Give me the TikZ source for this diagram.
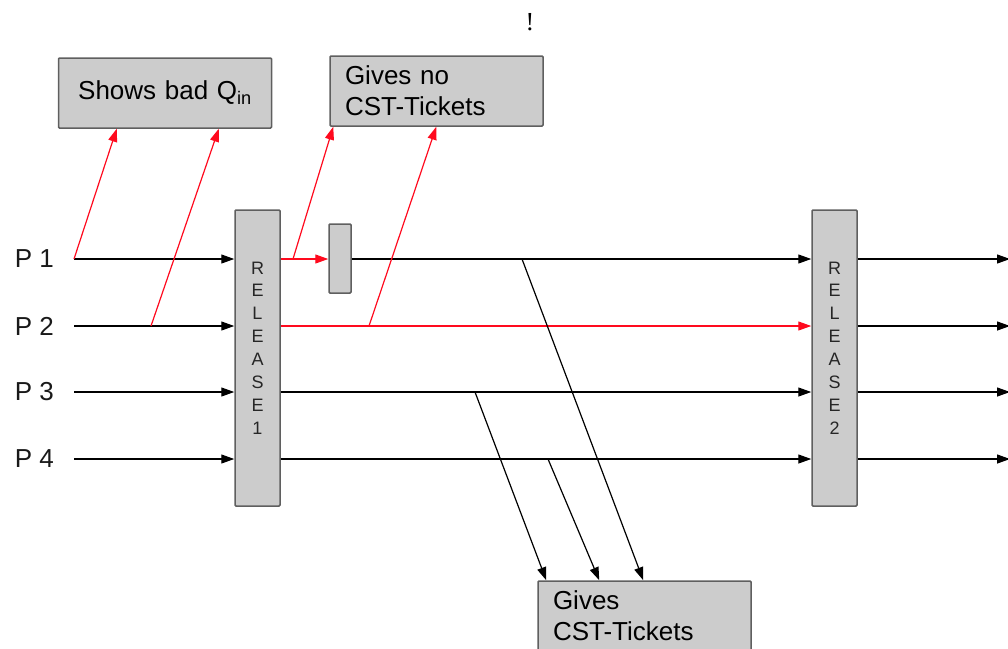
\documentclass[tikz,border=0pt]{standalone}
\usepackage{fontspec}
\setmainfont{Liberation Sans}
\newfontfamily\bangfont{Liberation Serif}
\usetikzlibrary{arrows.meta}

\definecolor{boxgray}{RGB}{204,204,204}
\definecolor{edgegray}{RGB}{95,95,95}
\definecolor{flagred}{RGB}{255,10,30}

\begin{document}
\begin{tikzpicture}[x=1pt,y=-1pt,
  line width=1.2pt,>={Triangle[length=13pt,width=9pt]},
  gray box/.style={draw=edgegray,fill=boxgray,line width=1.5pt,rounded corners=1pt,inner sep=0pt},
  note box/.style={gray box,minimum height=70pt,text width=183pt,inner xsep=15pt,
    align=left,font=\fontsize{26}{31}\selectfont},
  release/.style={gray box,minimum width=45pt,minimum height=296pt},
  letters/.style={align=center,font=\fontsize{18}{22.9}\selectfont,text=black!85},
  plabel/.style={anchor=west,font=\fontsize{26}{26}\selectfont,text=black!90},
  red line/.style={draw=flagred}]

  \useasboundingbox (0,0) rectangle (1008,648);

  \node[font=\bangfont\fontsize{26}{26}\selectfont] (bang) at (530,22) {!};

  % the three remark boxes
  \node[note box,align=center] (badq) at (165,93) {Shows bad Q\textsubscript{in}};
  \node[note box] (nocst) at (436.5,91) {Gives no\\CST-Tickets};
  \node[note box] (cst) at (644.5,616) {Gives\\CST-Tickets};

  % release gates and the hold block
  \node[release] (rel1) at (257.5,358) {};
  \node[release] (rel2) at (834.5,358) {};
  \node[letters] (rel1txt) at (257.5,348) {R\\E\\L\\E\\A\\S\\E\\1};
  \node[letters] (rel2txt) at (834.5,348) {R\\E\\L\\E\\A\\S\\E\\2};
  \node[gray box,minimum width=22pt,minimum height=69pt] (gate) at (340,258.5) {};

  % streams P 1 .. P 4
  \foreach \i/\y in {1/259,2/326,3/392,4/459} {
    \node[plabel] (p\i) at (11,\y) {P \i};
    \coordinate (s\i) at (74,\y);
    \coordinate (e\i) at (1010,\y);
  }

  \coordinate (b2) at (151,326);
  \coordinate (b3) at (293,259);
  \coordinate (b4) at (369,326);
  \coordinate (b5) at (522,259);
  \coordinate (b6) at (475,392);
  \coordinate (b7) at (548,459);

  \foreach \i in {1,...,4} {
    \draw[->] (s\i) -- (s\i -| rel1.west);
    \draw[->] (s\i -| rel2.east) -- (e\i);
  }

  \draw[red line,->] (s1 -| rel1.east) -- (s1 -| gate.west);
  \draw[->] (s1 -| gate.east) -- (s1 -| rel2.west);
  \draw[red line,->] (s2 -| rel1.east) -- (s2 -| rel2.west);
  \draw[->] (s3 -| rel1.east) -- (s3 -| rel2.west);
  \draw[->] (s4 -| rel1.east) -- (s4 -| rel2.west);

  % red feedback to the upper boxes
  \path[every edge/.append style={red line,->}]
   (s1) edge ([xshift=59pt]badq.south west)
   (b2) edge ([xshift=161pt]badq.south west)
   (b3) edge ([xshift=4pt]nocst.south west)
   (b4) edge ([xshift=107pt]nocst.south west);

  % tickets taken off the streams
  \path[every edge/.append style={->}]
   (b6) edge ([xshift=9pt]cst.north west)
   (b7) edge ([xshift=62pt]cst.north west)
   (b5) edge ([xshift=106pt]cst.north west);
\end{tikzpicture}
\end{document}
